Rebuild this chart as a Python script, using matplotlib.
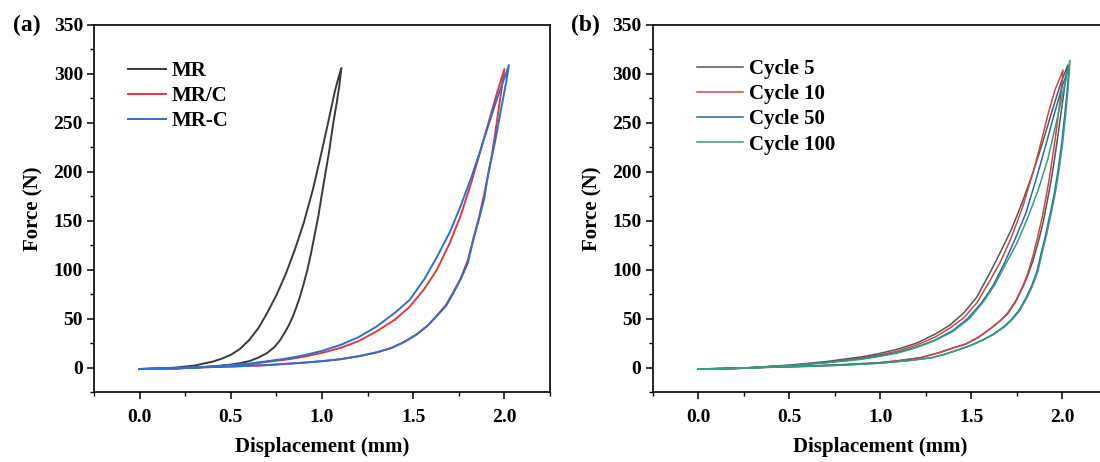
import matplotlib
matplotlib.use("Agg")
import matplotlib.pyplot as plt
from matplotlib.ticker import MultipleLocator

plt.rcParams['font.family'] = ['Liberation Serif', 'DejaVu Serif']
plt.rcParams['font.weight'] = 'bold'

# ---- panel (a): samples, loops (one branch up, other branch back) ----
mr_x = [0, 0.1, 0.2, 0.3, 0.35, 0.4, 0.45, 0.5, 0.55, 0.6, 0.65, 0.7, 0.75, 0.8, 0.85, 0.9, 0.95, 1.0,
        1.04, 1.07, 1.09, 1.106,
        1.095, 1.08, 1.06, 1.04, 1.02, 1.0, 0.98, 0.96, 0.94, 0.92, 0.9, 0.88, 0.86, 0.84, 0.82, 0.8,
        0.77, 0.74, 0.7, 0.65, 0.6, 0.55, 0.5, 0.4, 0.3, 0.2, 0]
mr_y = [-1.5, -1, 0, 2, 4, 6, 9, 13, 19, 28, 40, 56, 74, 95, 120, 148, 182, 222,
        256, 282, 296, 306,
        288, 270, 248, 222, 200, 178, 155, 136, 117, 100, 86, 73, 62, 52, 44, 37,
        28, 21, 15, 10, 6.5, 4.5, 3, 1.2, 0, -1, -1.5]

mrc_slash_x = [0, 0.2, 0.4, 0.6, 0.8, 0.9, 1.0, 1.1, 1.2, 1.3, 1.4, 1.48, 1.56, 1.63, 1.7, 1.76, 1.82,
               1.87, 1.92, 1.96, 2.0,
               1.985, 1.97, 1.95, 1.93, 1.91, 1.89, 1.86, 1.83, 1.8, 1.76, 1.72, 1.68, 1.63, 1.58, 1.52,
               1.45, 1.38, 1.3, 1.2, 1.1, 1.0, 0.9, 0.7, 0.5, 0.3, 0]
mrc_slash_y = [-1.5, -1, 1, 3.5, 8, 11, 15, 20, 27, 37, 49, 62, 80, 100, 127, 155, 190,
               222, 255, 281, 305,
               285, 266, 240, 216, 196, 178, 153, 132, 110, 91, 77, 64, 53, 43, 34,
               26, 20, 15.5, 11.5, 8.5, 6.5, 5, 2.5, 1, 0, -1.5]

mrc_dash_x = [0, 0.2, 0.4, 0.6, 0.8, 0.9, 1.0, 1.1, 1.2, 1.3, 1.4, 1.48, 1.56, 1.63, 1.7, 1.76, 1.82,
              1.87, 1.92, 1.96, 2.0, 2.025,
              2.01, 1.99, 1.97, 1.95, 1.93, 1.91, 1.89, 1.86, 1.83, 1.8, 1.76, 1.72, 1.68, 1.63, 1.58,
              1.52, 1.45, 1.38, 1.3, 1.2, 1.1, 1.0, 0.9, 0.7, 0.5, 0.3, 0]
mrc_dash_y = [-1.5, -1, 1, 4, 9, 12.5, 17, 23, 31, 42, 56, 69, 90, 113, 138, 165, 195,
              223, 252, 275, 296, 309,
              292, 272, 252, 232, 214, 197, 173, 151, 131, 107, 90, 76, 63, 53, 43,
              34, 26, 20, 15.5, 11.5, 8.5, 6.5, 5, 2.5, 1, 0, -1.5]

samples_a = ['MR', 'MR/C', 'MR-C']
colors_a = ['#3a3a3a', '#e0393e', '#2f6fd0']

# ---- panel (b): cycles ----
c5_x = [0, 0.25, 0.5, 0.7, 0.8, 0.9, 1.0, 1.1, 1.2, 1.3, 1.38, 1.46, 1.53, 1.6, 1.66, 1.72, 1.78,
        1.84, 1.89, 1.94, 1.99, 2.03,
        2.015, 2.0, 1.98, 1.96, 1.94, 1.92, 1.895, 1.87, 1.84, 1.81, 1.78, 1.74, 1.7, 1.66, 1.6,
        1.54, 1.47, 1.4, 1.32, 1.22, 1.1, 1.0, 0.8, 0.6, 0.4, 0.2, 0]
c5_y = [-1.5, -0.5, 2.5, 6, 8.5, 11, 14.5, 19, 25, 34, 43, 56, 72, 96, 118, 141, 169,
        200, 229, 260, 290, 309,
        290, 270, 243, 217, 193, 173, 149, 130, 110, 94, 81, 66, 55, 48, 39,
        31, 24, 20, 15, 10, 7, 5, 3, 1.5, 0.5, -1, -1.5]

c10_x = [0, 0.25, 0.5, 0.7, 0.8, 0.9, 1.0, 1.1, 1.2, 1.3, 1.38, 1.46, 1.53, 1.6, 1.66, 1.72, 1.78,
         1.84, 1.88, 1.92, 1.96, 2.004,
         1.995, 1.98, 1.965, 1.95, 1.93, 1.91, 1.89, 1.865, 1.84, 1.81, 1.78, 1.74, 1.7, 1.66, 1.6,
         1.54, 1.47, 1.4, 1.32, 1.22, 1.1, 1.0, 0.8, 0.6, 0.4, 0.2, 0]
c10_y = [-1.5, -0.5, 2, 5, 7.5, 10, 13, 17, 23, 31, 40, 51, 66, 88, 108, 133, 163,
         200, 228, 258, 284, 304,
         285, 262, 240, 220, 195, 174, 154, 134, 115, 96, 82, 67, 56, 48, 39,
         31, 24, 20, 15, 10, 7, 5, 3, 1.5, 0.5, -1, -1.5]

c50_x = [0, 0.25, 0.5, 0.7, 0.8, 0.9, 1.0, 1.1, 1.2, 1.3, 1.4, 1.48, 1.56, 1.62, 1.68, 1.74, 1.8,
         1.86, 1.91, 1.96, 2.0, 2.037,
         2.025, 2.01, 1.995, 1.975, 1.955, 1.935, 1.91, 1.885, 1.86, 1.83, 1.8, 1.76, 1.72, 1.68,
         1.62, 1.56, 1.5, 1.44, 1.36, 1.28, 1.15, 1.0, 0.8, 0.6, 0.4, 0.2, 0]
c50_y = [-1.5, -0.5, 2, 5, 7, 9, 12, 15.5, 21, 28, 38, 50, 67, 84, 106, 131, 158,
         195, 228, 262, 288, 307,
         280, 253, 227, 200, 177, 159, 137, 118, 98, 83, 71, 58, 49, 42,
         34, 28, 23, 19, 14, 10, 7, 4.5, 2.5, 1.2, 0.3, -1, -1.5]

c100_x = [0, 0.25, 0.5, 0.7, 0.8, 0.9, 1.0, 1.1, 1.2, 1.3, 1.4, 1.49, 1.57, 1.63, 1.69, 1.75, 1.81,
          1.87, 1.92, 1.97, 2.01, 2.042,
          2.03, 2.015, 2.0, 1.98, 1.96, 1.94, 1.915, 1.89, 1.865, 1.835, 1.805, 1.765, 1.725, 1.685,
          1.625, 1.565, 1.505, 1.445, 1.365, 1.285, 1.15, 1.0, 0.8, 0.6, 0.4, 0.2, 0]
c100_y = [-1.5, -0.5, 2, 5, 6.5, 8.5, 11.5, 15, 20.5, 27.5, 37, 50, 68, 85, 106, 127, 153,
          183, 213, 253, 287, 314,
          282, 253, 227, 200, 177, 159, 137, 118, 98, 83, 71, 58, 49, 42,
          34, 28, 23, 19, 14, 10, 7, 4.5, 2.5, 1.2, 0.3, -1, -1.5]

cycles_b = ['Cycle 5', 'Cycle 10', 'Cycle 50', 'Cycle 100']
colors_b = ['#555555', '#cc4548', '#2a66a8', '#34a07a']

x_ticks = [0.0, 0.5, 1.0, 1.5, 2.0]
y_ticks = [0, 50, 100, 150, 200, 250, 300, 350]


def style_axes(ax, tag):
    ax.set_xlim(-0.25, 2.25)
    ax.set_ylim(-25, 350)
    ax.set_xticks(x_ticks)
    ax.set_yticks(y_ticks)
    ax.set_xticklabels([f'{v:.1f}' for v in x_ticks])
    ax.xaxis.set_minor_locator(MultipleLocator(0.25))
    ax.yaxis.set_minor_locator(MultipleLocator(25))
    ax.tick_params(which='major', direction='out', length=5, width=1.1, labelsize=14, pad=3)
    ax.tick_params(axis='x', which='major', pad=7)
    ax.tick_params(which='minor', direction='out', length=3, width=1.0)
    for s in ax.spines.values():
        s.set_linewidth(1.2)
    ax.set_xlabel('Displacement (mm)', fontsize=15, fontweight='bold', labelpad=8)
    ax.set_ylabel('Force (N)', fontsize=15, fontweight='bold', labelpad=7)
    ax.text(-0.178, 1.0, tag, transform=ax.transAxes, fontsize=17, fontweight='bold',
            ha='left', va='center')


fig = plt.figure(figsize=(11, 4.62), dpi=100)
ax1 = fig.add_axes([0.0855, 0.1515, 0.4145, 0.7944])
ax2 = fig.add_axes([0.5932, 0.1515, 0.414, 0.7944])

for xs, ys, lab, c in zip([mr_x, mrc_slash_x, mrc_dash_x], [mr_y, mrc_slash_y, mrc_dash_y],
                          samples_a, colors_a):
    ax1.plot(xs, ys, color=c, lw=1.4, label=lab)

for xs, ys, lab, c in zip([c5_x, c10_x, c50_x, c100_x], [c5_y, c10_y, c50_y, c100_y],
                          cycles_b, colors_b):
    ax2.plot(xs, ys, color=c, lw=1.1, label=lab)

style_axes(ax1, '(a)')
style_axes(ax2, '(b)')

ax1.legend(loc='upper left', bbox_to_anchor=(0.057, 0.925), frameon=False, fontsize=15,
           handlelength=1.8, handletextpad=0.3, labelspacing=0.25, borderaxespad=0)
ax2.legend(loc='upper left', bbox_to_anchor=(0.08, 0.93), frameon=False, fontsize=15,
           handlelength=2.2, handletextpad=0.3, labelspacing=0.25, borderaxespad=0)

fig.savefig('out.png', dpi=100)
